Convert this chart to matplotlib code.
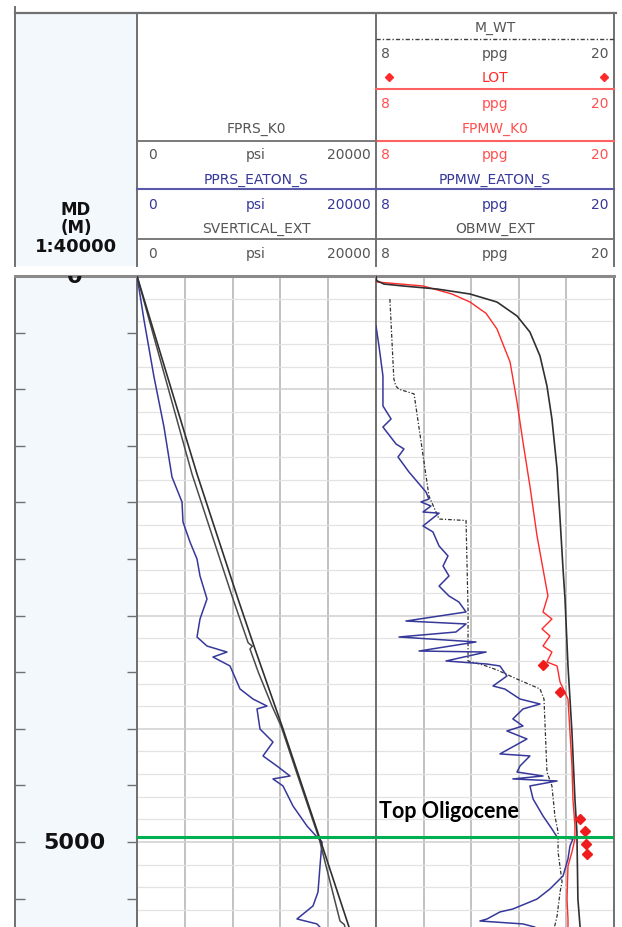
import matplotlib
matplotlib.use("Agg")
import matplotlib.pyplot as plt
import matplotlib.transforms as mtransforms
from matplotlib.patches import Rectangle
import numpy as np

W, H = 622, 928

# ---------------- data ----------------
# Track 1 (psi)
sv_md = [0, 1749, 2853, 3295, 3799, 3975, 4974, 5751]
sv_psi = [0, 5021, 8452, 9874, 11548, 12134, 15314, 17740]

fp_md = [0, 1749, 2853, 3240, 3270, 3295, 3500, 3760, 3799, 3975, 4400, 4974, 5698, 5730, 5751]
fp_psi = [0, 4602, 8033, 9300, 9650, 9455, 10150, 11150, 11297, 12050, 13400, 15250, 16987, 17350, 17400]

pprs_md = [0, 389, 892, 1334, 1776, 1996, 2173, 2350, 2500, 2650, 2853, 3030, 3189,
           3269, 3322, 3366, 3445, 3648, 3737, 3799, 3825, 4002, 4117, 4240, 4329,
           4417, 4443, 4505, 4682, 4859, 4956, 5000, 5212, 5442, 5565, 5680, 5724, 5751]
pprs_psi = [0, 586, 1423, 2259, 2929, 3766, 3849, 4435, 5021, 5272, 5858, 5272, 5021,
            5858, 7531, 6360, 7782, 8619, 9707, 10878, 10042, 10293, 11380, 10544, 11715,
            12803, 11380, 12217, 13054, 14226, 15062, 15481, 15314, 15146, 14728, 13389, 15062, 15300]

# Track 2 (ppg)
ob_md = [0, 40, 71, 88, 115, 159, 230, 353, 495, 707, 972, 1263, 1705, 2147, 2588, 2853,
         3445, 4028, 4620, 4912, 5504, 5751]
ob_ppg = [8.0, 8.02, 8.4, 9.36, 11.08, 12.74, 14.1, 15.11, 15.76, 16.27, 16.62, 16.87, 17.13,
          17.28, 17.43, 17.53, 17.68, 17.88, 18.03, 18.13, 18.18, 18.29]

fpmw_md = [0, 53, 88, 159, 230, 330, 468, 760, 1113, 1466, 1855, 2297, 2588, 2827, 2853,
           2968, 3030, 3118, 3180, 3269, 3322, 3410, 3445, 3587, 3737, 4028, 4329, 4620,
           4859, 4974, 5088, 5212, 5504, 5680, 5751]
fpmw_ppg = [8.0, 8.05, 10.37, 11.83, 12.74, 13.55, 14.1, 14.76, 15.11, 15.41, 15.76, 16.12,
            16.42, 16.67, 16.62, 16.42, 16.87, 16.37, 16.77, 16.42, 16.87, 16.62, 17.13,
            17.28, 17.68, 17.78, 17.88, 17.93, 18.03, 18.03, 17.88, 17.68, 17.63, 17.68, 17.68]

ppmw_md = [442, 618, 883, 1148, 1263, 1334, 1484, 1528, 1599, 1731, 1908, 1970, 1996,
           2032, 2085, 2095, 2208, 2261, 2385, 2473, 2562, 2650, 2739, 2827, 2880, 2968,
           3048, 3074, 3145, 3189, 3233, 3313, 3322, 3401, 3428, 3445, 3534, 3622, 3649,
           3737, 3781, 3825, 3913, 3975, 4019, 4090, 4222, 4240, 4329, 4382, 4417, 4443,
           4461, 4505, 4620, 4770, 4885, 4956, 4973, 5035, 5150, 5300, 5415, 5504, 5592,
           5618, 5680, 5698, 5724, 5751]
ppmw_ppg = [8.0, 8.15, 8.35, 8.35, 8.76, 8.35, 9.01, 9.41, 9.11, 9.66, 10.52, 10.67, 10.27,
            10.77, 10.37, 11.18, 10.37, 10.87, 11.18, 11.63, 11.38, 11.68, 11.18, 11.68, 12.18,
            12.54, 9.51, 12.54, 12.03, 9.16, 13.04, 10.17, 13.55, 11.53, 13.6, 14.25, 14.6,
            13.9, 14.5, 15.26, 16.27, 15.41, 14.9, 15.41, 14.6, 15.61, 14.25, 15.76, 15.26,
            15.11, 16.42, 14.9, 17.13, 15.76, 15.92, 16.42, 16.87, 17.13, 17.93, 17.78, 17.68,
            17.43, 16.77, 16.12, 14.9, 14.25, 13.6, 13.24, 15.41, 16.0]

mwt_md = [203, 910, 972, 1000, 1042, 1943, 2147, 2160, 2942, 3401, 3436, 3480, 3560, 3648,
          3737, 4382, 4505, 4770, 4912, 5088, 5353, 5442, 5654, 5751]
mwt_ppg = [8.7, 8.9, 9.0, 9.16, 9.92, 10.67, 11.18, 12.54, 12.64, 12.64, 13.4, 14.1, 15.1,
           16.27, 16.47, 16.62, 16.87, 17.02, 17.18, 17.18, 17.38, 17.28, 17.13, 17.0]

lot_md = [3436, 3675, 4797, 4903, 5018, 5106]
lot_ppg = [16.42, 17.28, 18.29, 18.54, 18.59, 18.64]

top_oligocene_md = 4955
depth_labels = [0, 5000]
md_max = 5751

# ---------------- styles ----------------
BLUE = "#36389a"
RED = "#ff2a2a"
DARK = "#303030"
HTXT = "#555555"
FRAME = "#707070"
LBLUE = "#f3f8fd"
GREEN = "#00b050"

fig = plt.figure(figsize=(W / 100, H / 100), dpi=100)
fig.patch.set_facecolor("white")

bg = fig.add_axes([0, 0, 1, 1])
bg.set_xlim(0, W)
bg.set_ylim(H, 0)
bg.axis("off")
bg.set_zorder(0)

x0, x1, x2, x3 = 15, 137, 376, 614
htop, hbot, dtop = 14, 267, 277

# header background and frame
bg.add_patch(Rectangle((x0, htop), x1 - x0, hbot - htop, fc=LBLUE, ec="none"))
bg.plot([x0, x3 + 2], [htop, htop], color=FRAME, lw=1.6)
for xx in (x0, x1, x2, x3):
    bg.plot([xx, xx], [htop if xx != x0 else 8, hbot], color=FRAME, lw=1.4)


def hline(xa, xb, y, color, ls="-", lw=1.2):
    bg.plot([xa, xb], [y, y], color=color, ls=ls, lw=lw)


def htxt(x, y, s, color, ha="center", size=10.0):
    bg.text(x, y, s, color=color, ha=ha, va="center", fontsize=size, family="DejaVu Sans")


def scale_row(y, track, color):
    if track == 1:
        htxt(148, y, "0", color, ha="left")
        htxt(256, y, "psi", color)
        htxt(371, y, "20000", color, ha="right")
    else:
        htxt(381, y, "8", color, ha="left")
        htxt(495, y, "ppg", color)
        htxt(609, y, "20", color, ha="right")


# track 2 header
htxt(495, 28, "M_WT", HTXT)
hline(x2, x3, 40, "#404040", ls=(0, (3, 1.5, 1, 1.5)), lw=1.0)
scale_row(54, 2, HTXT)
htxt(495, 78, "LOT", RED)
bg.plot([389, 604], [78, 78], ls="none", marker="D", ms=4, color=RED)
hline(x2, x3, 90, "#ff6060", lw=1.5)
scale_row(104, 2, "#ff5050")
htxt(495, 129, "FPMW_K0", "#ff5050")
hline(x2, x3, 142, "#ff6060", lw=1.5)
scale_row(155, 2, "#ff5050")
htxt(495, 180, "PPMW_EATON_S", BLUE)
hline(x1, x3, 190, "#5a5aa8", lw=1.5)
scale_row(205, 2, BLUE)
htxt(495, 229, "OBMW_EXT", HTXT)
hline(x1, x3, 240, "#707070", lw=1.3)
scale_row(254, 2, HTXT)

# track 1 header
htxt(256, 129, "FPRS_K0", HTXT)
hline(x1, x2, 142, "#707070", lw=1.3)
scale_row(155, 1, HTXT)
htxt(256, 180, "PPRS_EATON_S", BLUE)
scale_row(205, 1, BLUE)
htxt(256, 229, "SVERTICAL_EXT", HTXT)
scale_row(254, 1, HTXT)

# depth header
bg.text(76, 219, "MD\n(M)", ha="center", va="center", fontsize=12, fontweight="bold",
        color="#111111", family="DejaVu Sans", linespacing=0.95)
bg.text(76, 247, "1:40000", ha="center", va="center", fontsize=13, fontweight="bold",
        color="#111111", family="DejaVu Sans")

# ---------------- data axes ----------------
def fig_rect(xa, xb):
    return [xa / W, 0, (xb - xa) / W, (H - dtop) / H]


axd = fig.add_axes(fig_rect(x0, x1))
ax1 = fig.add_axes(fig_rect(x1, x2))
ax2 = fig.add_axes(fig_rect(x2, x3))

for ax in (axd, ax1, ax2):
    ax.set_zorder(2)
    ax.set_ylim(md_max, 0)
    for sp in ax.spines.values():
        sp.set_color(FRAME)
        sp.set_linewidth(1.4)
    ax.spines["bottom"].set_visible(False)
    ax.spines["top"].set_color("#8a8a8a")
    ax.spines["top"].set_linewidth(2.2)

# depth track
axd.set_facecolor(LBLUE)
axd.set_xlim(0, 1)
axd.set_xticks([])
axd.set_yticks(np.arange(0, md_max, 500))
axd.tick_params(axis="y", direction="in", left=True, right=True, length=7, width=1.0,
                color=FRAME, labelleft=False)
tr = mtransforms.blended_transform_factory(axd.transAxes, axd.transData)
for d in depth_labels:
    axd.text(0.49, d, f"{d}", transform=tr, ha="center", va="center", fontsize=16,
             fontweight="bold", color="#111111", family="DejaVu Sans", clip_on=True)

# tracks
for ax, lo, hi in ((ax1, 0, 20000), (ax2, 8, 20)):
    ax.set_xlim(lo, hi)
    ax.set_xticks(np.linspace(lo, hi, 6))
    ax.set_yticks(np.arange(0, md_max, 1000))
    ax.set_yticks(np.arange(0, md_max, 200), minor=True)
    ax.tick_params(which="both", length=0, labelleft=False, labelbottom=False)
    ax.grid(axis="x", color="#bdbdbd", lw=1.3)
    ax.grid(axis="y", which="major", color="#cfcfcf", lw=1.1)
    ax.grid(axis="y", which="minor", color="#e3e3e3", lw=0.9)
    ax.set_axisbelow(True)
    ax.axhline(top_oligocene_md, color=GREEN, lw=2.2, zorder=5)

# track 1 curves
ax1.plot(pprs_psi, pprs_md, color=BLUE, lw=1.1, zorder=3)
ax1.plot(fp_psi, fp_md, color="#4a4a4a", lw=1.1, zorder=3)
ax1.plot(sv_psi, sv_md, color=DARK, lw=1.2, zorder=3)

# track 2 curves
ax2.plot(mwt_ppg, mwt_md, color="#303030", lw=0.9, ls=(0, (3, 1.5, 1, 1.5)), zorder=3)
ax2.plot(ppmw_ppg, ppmw_md, color=BLUE, lw=1.1, zorder=3)
ax2.plot(fpmw_ppg, fpmw_md, color=RED, lw=1.0, zorder=3)
ax2.plot(ob_ppg, ob_md, color=DARK, lw=1.2, zorder=3)
ax2.plot(lot_ppg, lot_md, ls="none", marker="D", ms=5, color="#ee1c1c", zorder=4)

ax2.text(8.15, 4722, "Top Oligocene", ha="left", va="center", fontsize=15.5,
         fontweight="bold", family="Lato", color="black", zorder=6)

fig.savefig("out.png", dpi=100)
